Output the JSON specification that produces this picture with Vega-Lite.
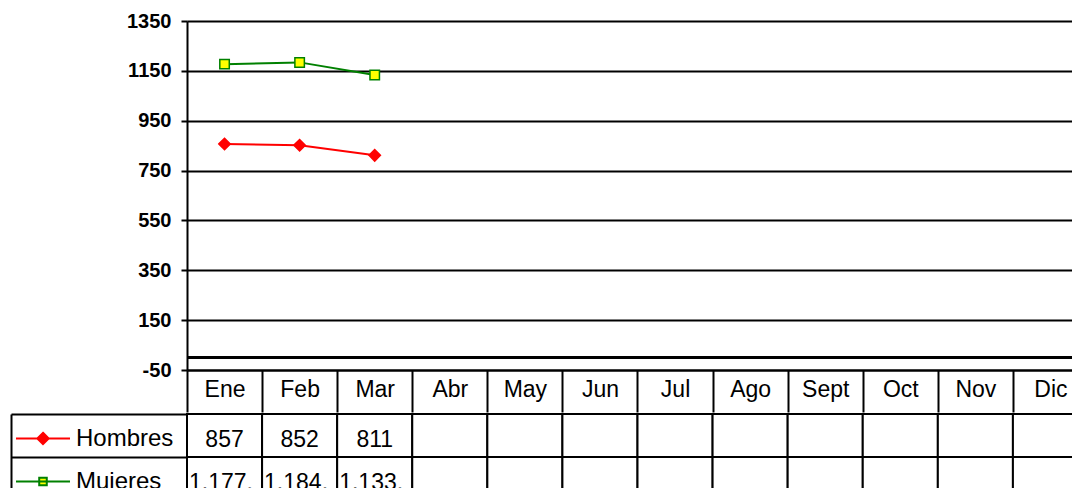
{
  "$schema": "https://vega.github.io/schema/vega-lite/v6.json",
  "background": "white",
  "padding": {"left": 10, "top": 11, "right": 0, "bottom": 0},
  "spacing": 0,
  "config": {
    "font": "Liberation Sans",
    "view": {"stroke": null},
    "concat": {"spacing": 0}
  },
  "resolve": {
    "scale": {"color": "independent", "shape": "independent", "fill": "independent", "stroke": "independent", "size": "independent"},
    "legend": {"color": "independent", "shape": "independent", "fill": "independent", "stroke": "independent", "size": "independent"}
  },
  "datasets": {
    "tabla": [
      {"mes": "Ene", "serie": "Hombres", "valor": 857, "texto": "857"},
      {"mes": "Feb", "serie": "Hombres", "valor": 852, "texto": "852"},
      {"mes": "Mar", "serie": "Hombres", "valor": 811, "texto": "811"},
      {"mes": "Abr", "serie": "Hombres", "valor": null, "texto": ""},
      {"mes": "May", "serie": "Hombres", "valor": null, "texto": ""},
      {"mes": "Jun", "serie": "Hombres", "valor": null, "texto": ""},
      {"mes": "Jul", "serie": "Hombres", "valor": null, "texto": ""},
      {"mes": "Ago", "serie": "Hombres", "valor": null, "texto": ""},
      {"mes": "Sept", "serie": "Hombres", "valor": null, "texto": ""},
      {"mes": "Oct", "serie": "Hombres", "valor": null, "texto": ""},
      {"mes": "Nov", "serie": "Hombres", "valor": null, "texto": ""},
      {"mes": "Dic", "serie": "Hombres", "valor": null, "texto": ""},
      {"mes": "Ene", "serie": "Mujeres", "valor": 1177, "texto": "1.177,"},
      {"mes": "Feb", "serie": "Mujeres", "valor": 1184, "texto": "1.184,"},
      {"mes": "Mar", "serie": "Mujeres", "valor": 1133, "texto": "1.133,"},
      {"mes": "Abr", "serie": "Mujeres", "valor": null, "texto": ""},
      {"mes": "May", "serie": "Mujeres", "valor": null, "texto": ""},
      {"mes": "Jun", "serie": "Mujeres", "valor": null, "texto": ""},
      {"mes": "Jul", "serie": "Mujeres", "valor": null, "texto": ""},
      {"mes": "Ago", "serie": "Mujeres", "valor": null, "texto": ""},
      {"mes": "Sept", "serie": "Mujeres", "valor": null, "texto": ""},
      {"mes": "Oct", "serie": "Mujeres", "valor": null, "texto": ""},
      {"mes": "Nov", "serie": "Mujeres", "valor": null, "texto": ""},
      {"mes": "Dic", "serie": "Mujeres", "valor": null, "texto": ""}
    ]
  },
  "vconcat": [
    {
      "width": 901,
      "height": 349,
      "data": {"name": "tabla"},
      "layer": [
        {
          "mark": {"type": "rule", "color": "#000000", "strokeWidth": 2},
          "encoding": {"y": {"datum": 0, "type": "quantitative"}}
        },
        {
          "transform": [{"filter": "datum.valor != null"}],
          "mark": {"type": "line", "strokeWidth": 2},
          "encoding": {
            "x": {
              "field": "mes", "type": "ordinal",
              "sort": ["Ene","Feb","Mar","Abr","May","Jun","Jul","Ago","Sept","Oct","Nov","Dic"],
              "scale": {"type": "band", "domain": ["Ene","Feb","Mar","Abr","May","Jun","Jul","Ago","Sept","Oct","Nov","Dic"], "paddingInner": 0, "paddingOuter": 0},
              "axis": {
                "title": null, "orient": "bottom", "grid": false,
                "domain": true, "domainColor": "#000000", "domainWidth": 2,
                "ticks": true, "tickBand": "extent", "tickSize": 42, "tickColor": "#000000", "tickWidth": 2,
                "labelFont": "Liberation Sans", "labelFontSize": 23, "labelColor": "#000000", "labelAngle": 0,
                "labelBaseline": "middle", "labelPadding": -23, "labelOverlap": false, "labelBound": false
              }
            },
            "y": {
              "field": "valor", "type": "quantitative",
              "scale": {"domain": [-50, 1350], "nice": false, "zero": false},
              "axis": {
                "title": null, "values": [-50, 150, 350, 550, 750, 950, 1150, 1350],
                "labelExpr": "'' + datum.value",
                "grid": true, "gridColor": "#000000", "gridWidth": 2, "gridOpacity": 1,
                "domain": true, "domainColor": "#000000", "domainWidth": 2,
                "tickColor": "#000000", "tickWidth": 2, "tickSize": 6,
                "labelFont": "Liberation Sans", "labelFontSize": 20, "labelFontWeight": "bold", "labelColor": "#000000", "labelPadding": 10
              }
            },
            "color": {"field": "serie", "type": "nominal", "scale": {"domain": ["Hombres","Mujeres"], "range": ["#FF0000","#008000"]}, "legend": null}
          }
        },
        {
          "transform": [{"filter": "datum.valor != null"}],
          "mark": {"type": "point", "filled": true, "opacity": 1, "strokeWidth": 1.5},
          "encoding": {
            "x": {"field": "mes", "type": "ordinal", "sort": ["Ene","Feb","Mar","Abr","May","Jun","Jul","Ago","Sept","Oct","Nov","Dic"]},
            "y": {"field": "valor", "type": "quantitative"},
            "shape": {"field": "serie", "type": "nominal", "scale": {"domain": ["Hombres","Mujeres"], "range": ["diamond","square"]}, "legend": null},
            "fill": {"field": "serie", "type": "nominal", "scale": {"domain": ["Hombres","Mujeres"], "range": ["#FF0000","#FFFF00"]}, "legend": null},
            "stroke": {"field": "serie", "type": "nominal", "scale": {"domain": ["Hombres","Mujeres"], "range": ["#FF0000","#008000"]}, "legend": null},
            "size": {"field": "serie", "type": "nominal", "scale": {"domain": ["Hombres","Mujeres"], "range": [130, 90]}, "legend": null}
          }
        }
      ]
    },
    {
      "width": 901,
      "height": 86,
      "data": {"name": "tabla"},
      "layer": [
        {
          "mark": {"type": "point", "filled": true, "opacity": 1},
          "encoding": {
            "y": {"field": "serie", "type": "nominal"},
            "shape": {"field": "serie", "type": "nominal", "scale": {"domain": ["Hombres","Mujeres"], "range": ["M-1,0H1M0,-0.21L0.21,0L0,0.21L-0.21,0Z", "M-1,0H1M-0.14,-0.14H0.14V0.14H-0.14Z"]},
              "legend": {
                "orient": "left", "title": null, "offset": -167, "padding": 3,
                "symbolSize": 2916, "symbolStrokeWidth": 2, "symbolOpacity": 1,
                "labelFont": "Liberation Sans", "labelFontSize": 24, "labelColor": "#000000", "labelOffset": 5,
                "clipHeight": 43, "rowPadding": 0
              }
            },
            "fill": {"field": "serie", "type": "nominal", "scale": {"domain": ["Hombres","Mujeres"], "range": ["#FF0000","#FFFF00"]}},
            "stroke": {"field": "serie", "type": "nominal", "scale": {"domain": ["Hombres","Mujeres"], "range": ["#FF0000","#008000"]}}
          }
        },
        {
          "mark": {"type": "rect", "fill": "#FFFFFF", "stroke": "#000000", "strokeWidth": 2},
          "encoding": {
            "x": {
              "field": "mes", "type": "ordinal",
              "scale": {"type": "band", "domain": ["Ene","Feb","Mar","Abr","May","Jun","Jul","Ago","Sept","Oct","Nov","Dic"], "paddingInner": 0, "paddingOuter": 0},
              "axis": null
            },
            "y": {
              "field": "serie", "type": "nominal",
              "scale": {"type": "band", "domain": ["Hombres","Mujeres"], "paddingInner": 0, "paddingOuter": 0},
              "axis": {
                "title": null, "orient": "left", "offset": 176,
                "domain": true, "domainColor": "#000000", "domainWidth": 2,
                "ticks": true, "tickBand": "extent", "tickSize": -176, "tickColor": "#000000", "tickWidth": 2,
                "labels": false, "grid": false
              }
            }
          }
        },
        {
          "transform": [{"filter": "datum.serie == 'Hombres'"}],
          "mark": {"type": "text", "fontSize": 23, "font": "Liberation Sans", "color": "#000000", "baseline": "middle", "align": "center", "dy": 4},
          "encoding": {
            "x": {"field": "mes", "type": "ordinal"},
            "y": {"field": "serie", "type": "nominal"},
            "text": {"field": "texto"}
          }
        },
        {
          "transform": [{"filter": "datum.serie == 'Mujeres'"}],
          "mark": {"type": "text", "fontSize": 23, "font": "Liberation Sans", "color": "#000000", "baseline": "middle", "align": "left", "dx": 2, "dy": 4},
          "encoding": {
            "x": {"field": "mes", "type": "ordinal", "bandPosition": 0},
            "y": {"field": "serie", "type": "nominal"},
            "text": {"field": "texto"}
          }
        }
      ]
    }
  ]
}
